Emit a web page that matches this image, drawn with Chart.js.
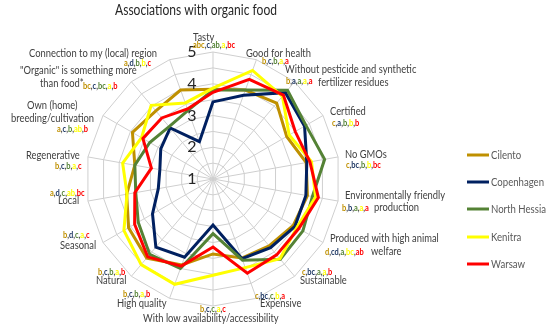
<!DOCTYPE html>
<html>
<head>
<meta charset="utf-8">
<script src="https://cdn.jsdelivr.net/npm/chart.js@4.4.1/dist/chart.umd.min.js"></script>
<style>
  html, body { margin: 0; padding: 0; background: #fff; }
  #wrap { width: 550px; height: 329px; }
</style>
</head>
<body>
<div id="wrap"><canvas id="radarChart" width="550" height="329"></canvas></div>
<script>
const categories = [
  "Tasty", "Good for health", "Without pesticide and synthetic fertilizer residues",
  "Certified", "No GMOs", "Environmentally friendly production",
  "Produced with high animal welfare", "Sustainable", "Expensive",
  "With low availability/accessibility", "High quality", "Natural", "Seasonal",
  "Local", "Regenerative", "Own (home) breeding/cultivation",
  "\"Organic\" is something more than food*", "Connection to my (local) region"
];

const seriesNames = ["Cilento", "Copenhagen", "North Hessia", "Kenitra", "Warsaw"];
const seriesColors = ["#BF9000", "#002060", "#548235", "#FFFF00", "#FF0000"];

const cilento     = [3.83, 3.98, 4.12, 3.68, 3.98, 4.02, 3.92, 3.75, 3.65, 3.36, 3.88, 4.25, 4.07, 3.76, 3.50, 3.93, 3.80, 3.98];
const copenhagen  = [3.43, 3.81, 4.55, 4.33, 4.00, 3.97, 3.98, 3.82, 3.67, 2.45, 3.62, 3.80, 3.20, 2.75, 2.70, 2.90, 3.10, 2.25];
const northHessia = [3.80, 3.98, 4.65, 4.38, 4.57, 4.18, 4.27, 4.30, 3.72, 2.72, 4.00, 4.10, 3.72, 3.47, 3.50, 3.30, 3.15, 3.30];
const kenitra     = [3.86, 4.64, 4.40, 3.77, 4.15, 4.28, 4.05, 4.28, 3.97, 4.03, 4.53, 4.52, 4.24, 3.75, 3.89, 3.60, 4.03, 3.55];
const warsaw      = [3.73, 4.34, 4.45, 3.99, 4.10, 4.37, 4.12, 4.12, 4.16, 3.14, 3.92, 4.20, 3.85, 3.50, 2.97, 3.55, 3.51, 3.35];

// significance letters per category, one group per city (same order as seriesNames)
const letters = [
  ["abc", "c", "ab", "a", "bc"], ["b", "c", "b", "a", "a"], ["b", "a", "a", "a", "a"],
  ["c", "a", "b", "b", "b"], ["c", "bc", "b", "b", "bc"], ["b", "b", "a", "a", "a"],
  ["d", "cd", "a", "bc", "ab"], ["c", "bc", "a", "a", "b"], ["c", "bc", "c", "b", "a"],
  ["b", "c", "c", "a", "c"], ["b", "c", "b", "a", "b"], ["b", "c", "b", "a", "b"],
  ["b", "d", "c", "a", "c"], ["a", "d", "c", "ab", "bc"], ["b", "c", "b", "a", "c"],
  ["a", "c", "b", "ab", "b"], ["bc", "c", "bc", "a", "b"], ["a", "d", "b", "b", "c"]
];

const tickLabels = [1, 2, 3, 4, 5];
const chartTitle = "Associations with organic food";

// where the label text sits around the web (layout only)
const labelLayout = [
  { lines: [["Tasty", 193, 38]], let: [193, 45] },
  { lines: [["Good for health", 246, 54]], let: [262, 61] },
  { lines: [["Without pesticide and synthetic", 285, 70], ["fertilizer residues", 318, 83]], let: [286, 81] },
  { lines: [["Certified", 330, 112]], let: [332, 123] },
  { lines: [["No GMOs", 345, 155]], let: [346, 165] },
  { lines: [["Environmentally friendly", 345, 196], ["production", 374, 208]], let: [342, 208] },
  { lines: [["Produced with high animal", 330, 239], ["welfare", 371, 252]], let: [325, 252] },
  { lines: [["Sustainable", 300, 281]], let: [302, 272] },
  { lines: [["Expensive", 260, 304]], let: [255, 296] },
  { lines: [["With low availability/accessibility", 143, 319]], let: [200, 309] },
  { lines: [["High quality", 117, 304]], let: [123, 294] },
  { lines: [["Natural", 96, 281]], let: [98, 272] },
  { lines: [["Seasonal", 60, 246]], let: [63, 235] },
  { lines: [["Local", 58, 201]], let: [50, 193] },
  { lines: [["Regenerative", 26, 156]], let: [55, 166] },
  { lines: [["Own (home)", 27, 106], ["breeding/cultivation", 11, 119]], let: [57, 129] },
  { lines: [["\"Organic\" is something more", 20, 71], ["than food*", 40, 84]], let: [83, 86] },
  { lines: [["Connection to my (local) region", 29, 54]], let: [124, 63] }
];

const letterColors = ["#BF9000", "#1F3864", "#548235", "#FFFF00", "#FF0000"];
const FAMILY = "Lato, 'Open Sans', sans-serif";

// Lato is wider than the original face, so text is squeezed sideways to the same widths
function squeeze(ctx, font, probe, target) {
  ctx.font = font;
  return target / ctx.measureText(probe).width;
}

function drawText(ctx, txt, x, y, sx) {
  ctx.save();
  ctx.translate(x, y);
  ctx.scale(sx, 1);
  ctx.fillText(txt, 0, 0);
  ctx.restore();
  return ctx.measureText(txt).width * sx;
}

const overlayPlugin = {
  id: "overlay",
  afterDraw(chart) {
    const ctx = chart.ctx;
    const scale = chart.scales.r;
    ctx.save();
    ctx.textBaseline = "middle";

    // title
    const titleFont = "14.5px " + FAMILY;
    const tsx = squeeze(ctx, titleFont, chartTitle, 162);
    ctx.fillStyle = "#262626";
    ctx.textAlign = "left";
    drawText(ctx, chartTitle, 115, 10, tsx);

    // value axis numbers
    ctx.font = "16px " + FAMILY;
    ctx.textAlign = "center";
    ctx.fillStyle = "#262626";
    tickLabels.forEach((t) => {
      const y = scale.yCenter - scale.getDistanceFromCenterForValue(t);
      ctx.fillText(String(t), scale.xCenter - 21, y);
    });

    // category labels and letters
    ctx.textAlign = "left";
    const labelFont = "10.5px " + FAMILY;
    const lsx = squeeze(ctx, labelFont, "Connection to my (local) region", 128);
    const letterFont = "bold 9px " + FAMILY;
    const esx = squeeze(ctx, letterFont, "abc,c,ab,a,bc", 42);
    labelLayout.forEach((lay, i) => {
      ctx.font = labelFont;
      ctx.fillStyle = "#404040";
      lay.lines.forEach(([txt, x, y]) => drawText(ctx, txt, x, y, lsx));
      ctx.font = letterFont;
      let x = lay.let[0];
      const y = lay.let[1];
      letters[i].forEach((grp, k) => {
        ctx.fillStyle = letterColors[k];
        x += drawText(ctx, grp, x, y, esx);
        if (k < letters[i].length - 1) {
          ctx.fillStyle = "#404040";
          x += drawText(ctx, ",", x, y, esx);
        }
      });
    });

    // legend
    const rows = [155, 182, 209, 237, 264];
    const legendFont = "12px " + FAMILY;
    const gsx = squeeze(ctx, legendFont, "North Hessia", 55);
    seriesNames.forEach((name, i) => {
      ctx.strokeStyle = seriesColors[i];
      ctx.lineWidth = 3;
      ctx.beginPath();
      ctx.moveTo(467, rows[i]);
      ctx.lineTo(489, rows[i]);
      ctx.stroke();
      ctx.fillStyle = "#595959";
      ctx.font = legendFont;
      drawText(ctx, name, 491, rows[i], gsx);
    });
    ctx.restore();
  }
};

const seriesData = [cilento, copenhagen, northHessia, kenitra, warsaw];

new Chart(document.getElementById("radarChart").getContext("2d"), {
  type: "radar",
  data: {
    labels: categories,
    datasets: seriesData.map((d, i) => ({
      label: seriesNames[i],
      data: d,
      borderColor: seriesColors[i],
      backgroundColor: "transparent",
      borderWidth: 3,
      pointRadius: 0,
      fill: false,
      tension: 0,
      order: seriesData.length - i
    }))
  },
  options: {
    responsive: false,
    animation: false,
    layout: { padding: { left: 86, top: 52, right: 210, bottom: 23 } },
    plugins: {
      legend: { display: false },
      title: { display: false },
      tooltip: { enabled: false }
    },
    scales: {
      r: {
        min: 1,
        max: 5,
        ticks: { stepSize: 0.5, display: false },
        pointLabels: { display: false },
        grid: { color: "#cfcfcf", lineWidth: 1, circular: false },
        angleLines: { color: "#cfcfcf", lineWidth: 1 }
      }
    }
  },
  plugins: [overlayPlugin]
});
</script>
</body>
</html>
